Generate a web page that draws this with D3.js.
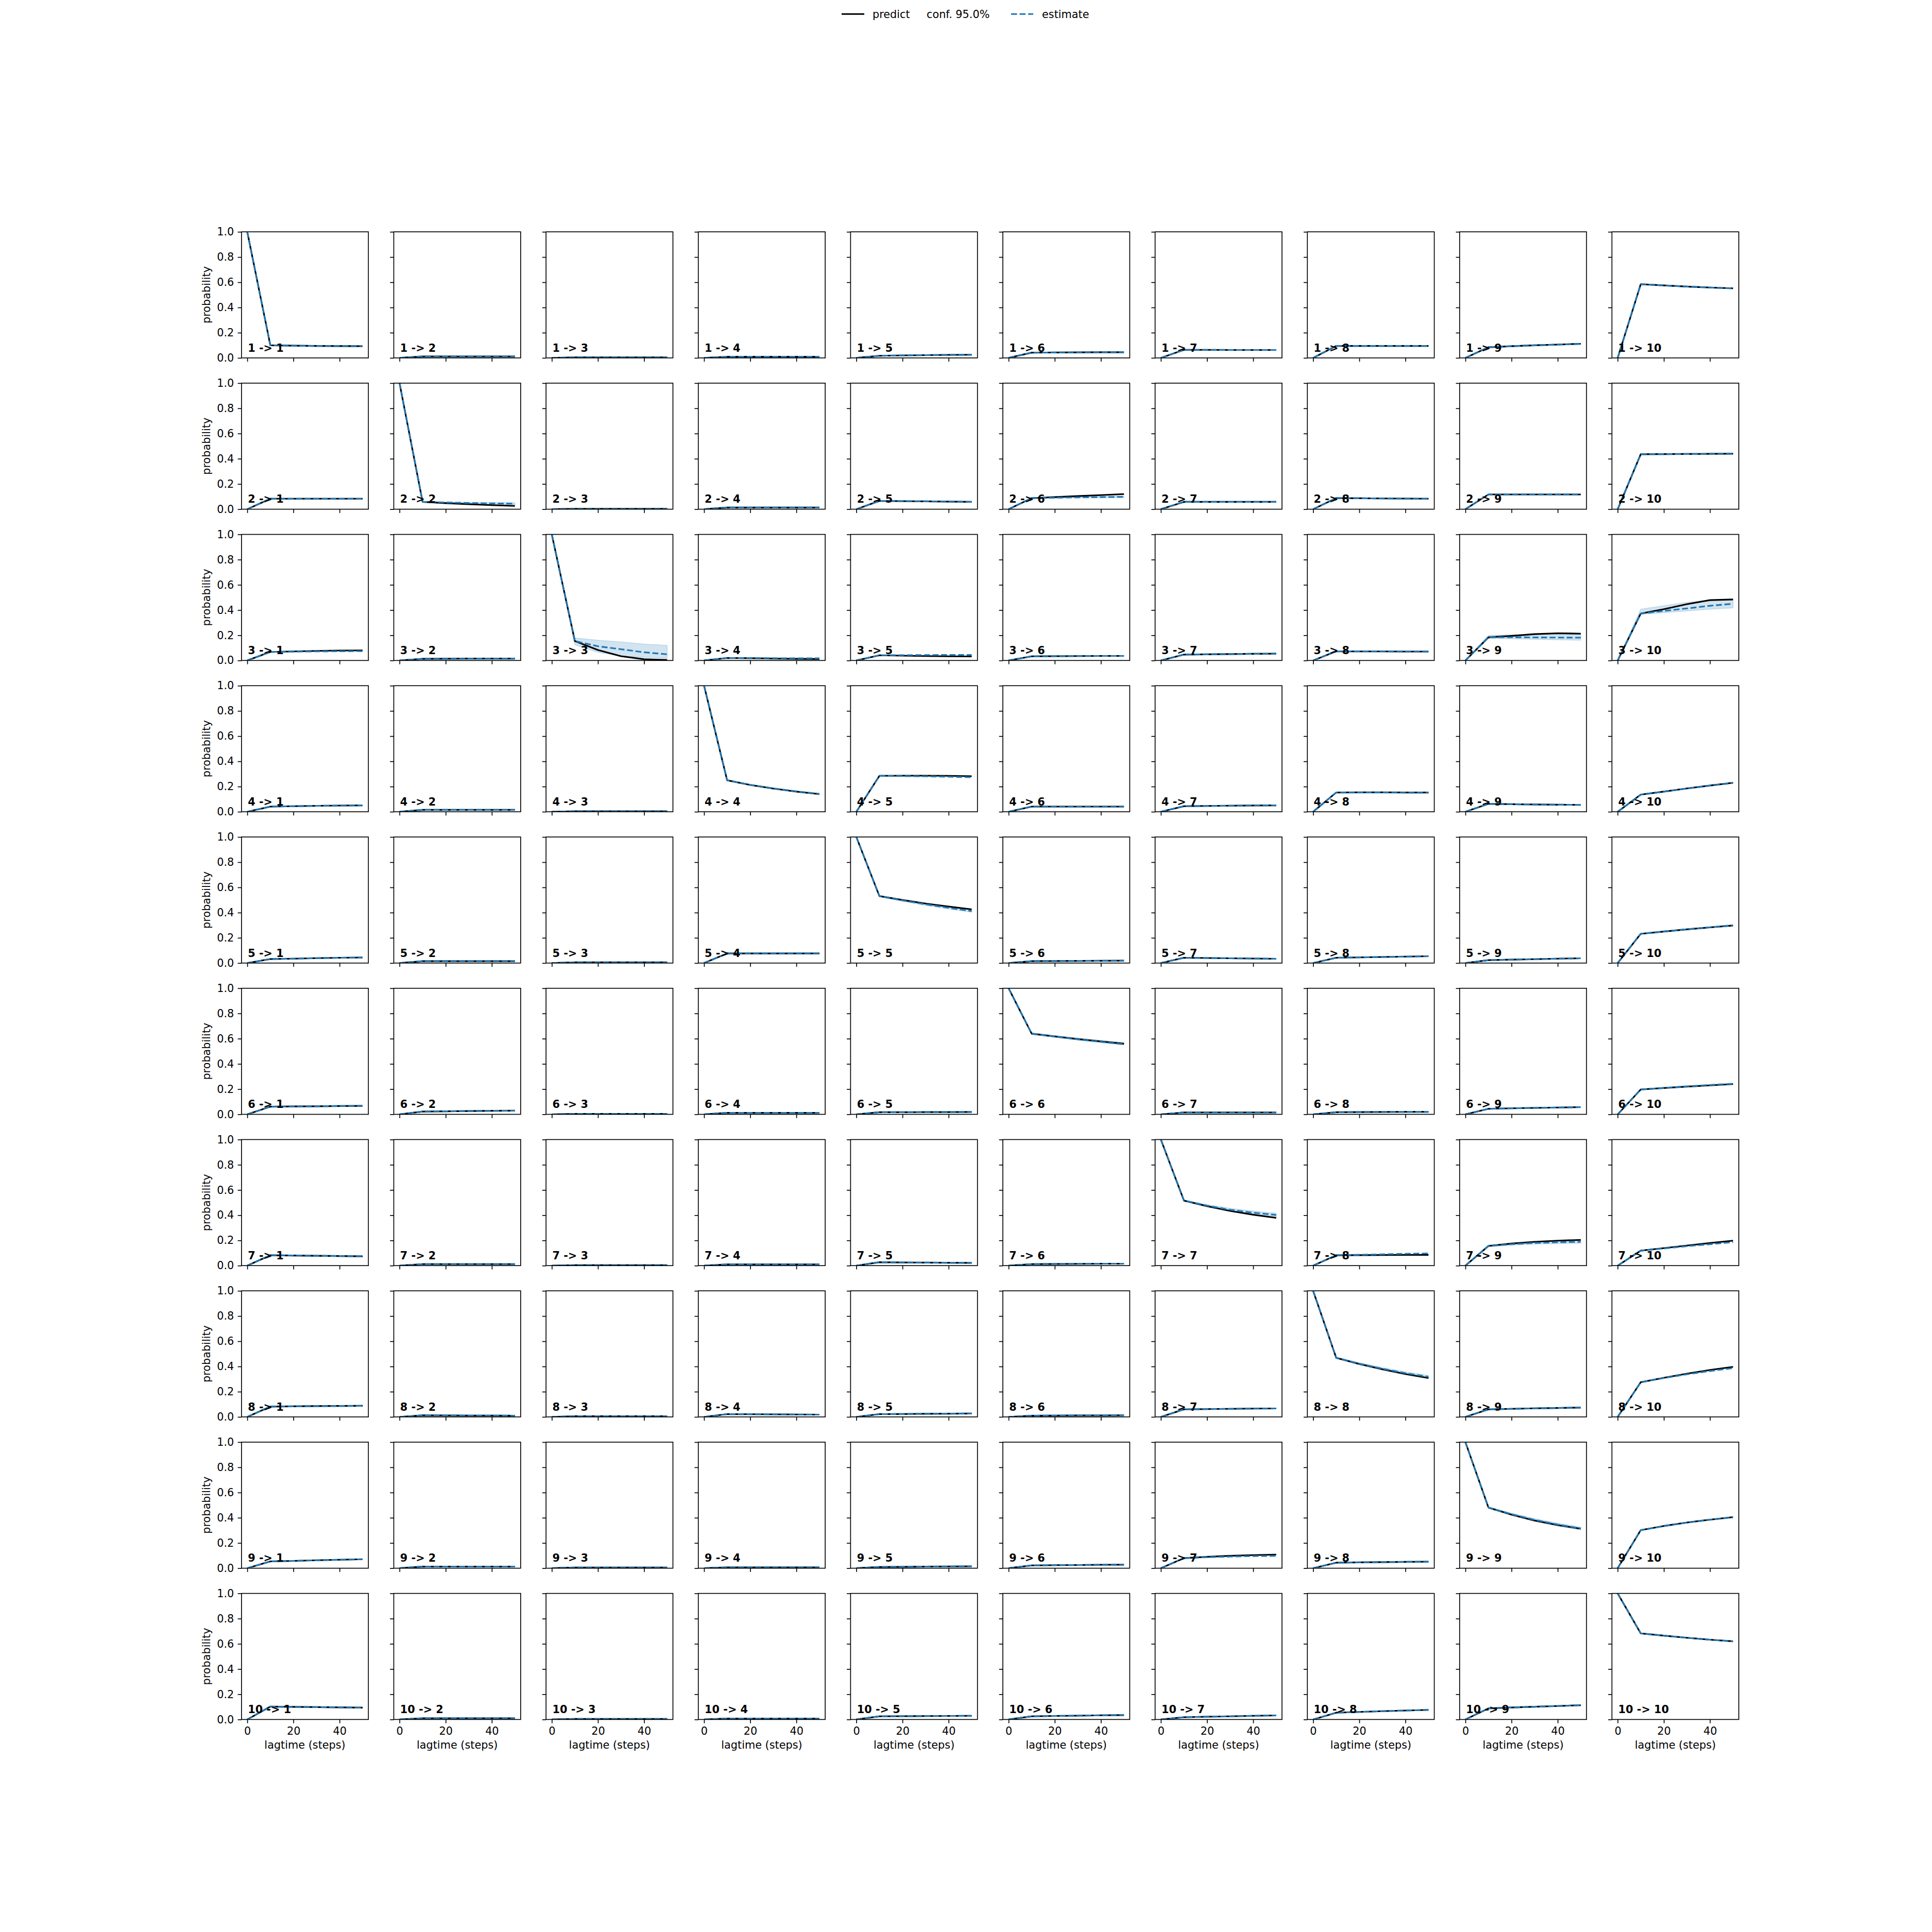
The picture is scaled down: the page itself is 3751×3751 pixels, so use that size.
<!DOCTYPE html>
<html>
<head>
<meta charset="utf-8">
<script src="https://cdn.jsdelivr.net/npm/d3@7"></script>
<style>
  html, body { margin: 0; padding: 0; background: #fff; }
  svg text { font-family: "DejaVu Sans", sans-serif; }
</style>
</head>
<body>
<svg id="chart" width="3751" height="3751"></svg>
<script>
// ---------------- DATA ----------------
const lagtimes = [0, 10, 20, 30, 40, 50];
const states = [1, 2, 3, 4, 5, 6, 7, 8, 9, 10];
const yTicks = [0, 0.2, 0.4, 0.6, 0.8, 1.0];
const xTicks = [0, 20, 40];
const legendLabels = ["predict", "conf. 95.0%", "estimate"];

const predictFrom1 = [
  [1, 0.100, 0.097, 0.095, 0.094, 0.093],
  [0, 0.012, 0.012, 0.012, 0.012, 0.012],
  [0, 0.004, 0.004, 0.004, 0.004, 0.004],
  [0, 0.009, 0.009, 0.009, 0.009, 0.009],
  [0, 0.017, 0.020, 0.022, 0.024, 0.025],
  [0, 0.042, 0.043, 0.044, 0.045, 0.045],
  [0, 0.064, 0.064, 0.063, 0.063, 0.063],
  [0, 0.095, 0.095, 0.095, 0.095, 0.095],
  [0, 0.085, 0.093, 0.100, 0.106, 0.112],
  [0, 0.585, 0.575, 0.566, 0.558, 0.552]];
const estimateFrom1 = [
  [1, 0.100, 0.097, 0.095, 0.094, 0.093],
  [0, 0.013, 0.013, 0.013, 0.013, 0.013],
  [0, 0.004, 0.004, 0.004, 0.004, 0.004],
  [0, 0.009, 0.009, 0.009, 0.009, 0.009],
  [0, 0.017, 0.020, 0.022, 0.024, 0.025],
  [0, 0.042, 0.043, 0.044, 0.045, 0.045],
  [0, 0.064, 0.064, 0.063, 0.063, 0.063],
  [0, 0.095, 0.095, 0.095, 0.095, 0.095],
  [0, 0.085, 0.093, 0.100, 0.106, 0.111],
  [0, 0.585, 0.575, 0.566, 0.558, 0.551]];

const predictFrom2 = [
  [0, 0.083, 0.083, 0.083, 0.083, 0.083],
  [1, 0.058, 0.048, 0.040, 0.032, 0.026],
  [0, 0.003, 0.003, 0.003, 0.003, 0.003],
  [0, 0.013, 0.013, 0.013, 0.013, 0.013],
  [0, 0.066, 0.064, 0.062, 0.060, 0.058],
  [0, 0.088, 0.096, 0.104, 0.112, 0.120],
  [0, 0.058, 0.058, 0.058, 0.058, 0.058],
  [0, 0.088, 0.087, 0.085, 0.084, 0.083],
  [0, 0.117, 0.117, 0.117, 0.117, 0.117],
  [0, 0.436, 0.437, 0.438, 0.439, 0.440]];
const estimateFrom2 = [
  [0, 0.083, 0.083, 0.083, 0.083, 0.083],
  [1, 0.058, 0.053, 0.049, 0.046, 0.044],
  [0, 0.003, 0.003, 0.003, 0.003, 0.003],
  [0, 0.013, 0.013, 0.013, 0.013, 0.013],
  [0, 0.066, 0.064, 0.062, 0.060, 0.058],
  [0, 0.088, 0.091, 0.094, 0.096, 0.098],
  [0, 0.058, 0.058, 0.058, 0.058, 0.058],
  [0, 0.088, 0.087, 0.085, 0.084, 0.083],
  [0, 0.117, 0.117, 0.117, 0.117, 0.117],
  [0, 0.436, 0.437, 0.438, 0.439, 0.440]];

const predictFrom3 = [
  [0, 0.068, 0.072, 0.076, 0.079, 0.080],
  [0, 0.013, 0.014, 0.015, 0.015, 0.015],
  [1, 0.154, 0.083, 0.034, 0.010, 0.004],
  [0, 0.020, 0.018, 0.015, 0.013, 0.012],
  [0, 0.041, 0.038, 0.035, 0.033, 0.032],
  [0, 0.033, 0.034, 0.035, 0.036, 0.036],
  [0, 0.047, 0.049, 0.051, 0.053, 0.054],
  [0, 0.073, 0.072, 0.072, 0.071, 0.071],
  [0, 0.184, 0.195, 0.209, 0.216, 0.213],
  [0, 0.372, 0.407, 0.447, 0.479, 0.484]];
const estimateFrom3 = [
  [0, 0.068, 0.070, 0.072, 0.073, 0.074],
  [0, 0.013, 0.014, 0.015, 0.015, 0.015],
  [1, 0.154, 0.113, 0.089, 0.065, 0.049],
  [0, 0.020, 0.019, 0.018, 0.017, 0.017],
  [0, 0.041, 0.042, 0.043, 0.044, 0.044],
  [0, 0.033, 0.034, 0.035, 0.036, 0.036],
  [0, 0.047, 0.049, 0.051, 0.053, 0.054],
  [0, 0.073, 0.072, 0.072, 0.071, 0.071],
  [0, 0.184, 0.184, 0.183, 0.182, 0.181],
  [0, 0.372, 0.393, 0.413, 0.434, 0.450]];

const predictFrom4 = [
  [0, 0.041, 0.044, 0.047, 0.049, 0.051],
  [0, 0.015, 0.015, 0.015, 0.015, 0.015],
  [0, 0.004, 0.004, 0.004, 0.004, 0.004],
  [1, 0.250, 0.213, 0.184, 0.160, 0.140],
  [0, 0.285, 0.286, 0.286, 0.285, 0.282],
  [0, 0.041, 0.041, 0.041, 0.041, 0.041],
  [0, 0.044, 0.046, 0.048, 0.050, 0.051],
  [0, 0.153, 0.154, 0.154, 0.153, 0.153],
  [0, 0.063, 0.060, 0.058, 0.056, 0.055],
  [0, 0.136, 0.160, 0.185, 0.208, 0.230]];
const estimateFrom4 = [
  [0, 0.041, 0.044, 0.047, 0.049, 0.051],
  [0, 0.015, 0.015, 0.015, 0.015, 0.015],
  [0, 0.004, 0.004, 0.004, 0.004, 0.004],
  [1, 0.250, 0.214, 0.186, 0.162, 0.142],
  [0, 0.285, 0.283, 0.281, 0.278, 0.274],
  [0, 0.041, 0.041, 0.041, 0.041, 0.041],
  [0, 0.044, 0.046, 0.048, 0.050, 0.051],
  [0, 0.153, 0.153, 0.153, 0.152, 0.152],
  [0, 0.063, 0.060, 0.058, 0.056, 0.055],
  [0, 0.136, 0.160, 0.184, 0.207, 0.228]];

const predictFrom5 = [
  [0, 0.032, 0.035, 0.039, 0.042, 0.044],
  [0, 0.015, 0.015, 0.015, 0.015, 0.015],
  [0, 0.006, 0.006, 0.006, 0.006, 0.006],
  [0, 0.076, 0.076, 0.076, 0.076, 0.076],
  [1, 0.531, 0.500, 0.472, 0.448, 0.426],
  [0, 0.015, 0.016, 0.017, 0.018, 0.019],
  [0, 0.042, 0.040, 0.038, 0.036, 0.034],
  [0, 0.042, 0.045, 0.048, 0.051, 0.054],
  [0, 0.023, 0.027, 0.031, 0.035, 0.038],
  [0, 0.232, 0.250, 0.267, 0.283, 0.298]];
const estimateFrom5 = [
  [0, 0.032, 0.035, 0.039, 0.042, 0.044],
  [0, 0.015, 0.015, 0.015, 0.015, 0.015],
  [0, 0.006, 0.006, 0.006, 0.006, 0.006],
  [0, 0.076, 0.076, 0.076, 0.076, 0.076],
  [1, 0.531, 0.497, 0.466, 0.438, 0.412],
  [0, 0.015, 0.016, 0.017, 0.018, 0.019],
  [0, 0.042, 0.040, 0.038, 0.036, 0.034],
  [0, 0.042, 0.045, 0.048, 0.051, 0.054],
  [0, 0.023, 0.027, 0.031, 0.035, 0.038],
  [0, 0.232, 0.251, 0.268, 0.284, 0.300]];

const predictFrom6 = [
  [0, 0.061, 0.063, 0.064, 0.066, 0.067],
  [0, 0.022, 0.024, 0.026, 0.028, 0.029],
  [0, 0.004, 0.004, 0.004, 0.004, 0.004],
  [0, 0.012, 0.012, 0.012, 0.012, 0.012],
  [0, 0.017, 0.017, 0.018, 0.018, 0.019],
  [1, 0.640, 0.618, 0.597, 0.578, 0.560],
  [0, 0.015, 0.015, 0.015, 0.015, 0.015],
  [0, 0.017, 0.018, 0.019, 0.020, 0.020],
  [0, 0.044, 0.048, 0.051, 0.054, 0.057],
  [0, 0.197, 0.209, 0.220, 0.230, 0.240]];
const estimateFrom6 = [
  [0, 0.061, 0.063, 0.064, 0.066, 0.067],
  [0, 0.022, 0.024, 0.026, 0.028, 0.029],
  [0, 0.004, 0.004, 0.004, 0.004, 0.004],
  [0, 0.012, 0.012, 0.012, 0.012, 0.012],
  [0, 0.017, 0.017, 0.018, 0.018, 0.019],
  [1, 0.640, 0.617, 0.595, 0.575, 0.556],
  [0, 0.015, 0.015, 0.015, 0.015, 0.015],
  [0, 0.017, 0.018, 0.019, 0.020, 0.020],
  [0, 0.044, 0.048, 0.051, 0.054, 0.057],
  [0, 0.197, 0.210, 0.222, 0.233, 0.243]];

const predictFrom7 = [
  [0, 0.082, 0.080, 0.078, 0.076, 0.074],
  [0, 0.012, 0.012, 0.012, 0.012, 0.012],
  [0, 0.004, 0.004, 0.004, 0.004, 0.004],
  [0, 0.010, 0.010, 0.010, 0.010, 0.010],
  [0, 0.027, 0.025, 0.024, 0.023, 0.022],
  [0, 0.012, 0.013, 0.014, 0.015, 0.015],
  [1, 0.516, 0.472, 0.434, 0.404, 0.379],
  [0, 0.082, 0.083, 0.084, 0.085, 0.085],
  [0, 0.156, 0.175, 0.189, 0.198, 0.204],
  [0, 0.119, 0.139, 0.159, 0.179, 0.198]];
const estimateFrom7 = [
  [0, 0.082, 0.080, 0.078, 0.076, 0.074],
  [0, 0.012, 0.012, 0.012, 0.012, 0.012],
  [0, 0.004, 0.004, 0.004, 0.004, 0.004],
  [0, 0.010, 0.010, 0.010, 0.010, 0.010],
  [0, 0.027, 0.025, 0.024, 0.023, 0.022],
  [0, 0.012, 0.013, 0.014, 0.015, 0.015],
  [1, 0.516, 0.476, 0.443, 0.420, 0.402],
  [0, 0.082, 0.086, 0.090, 0.094, 0.097],
  [0, 0.156, 0.170, 0.180, 0.185, 0.189],
  [0, 0.119, 0.136, 0.154, 0.170, 0.186]];

const predictFrom8 = [
  [0, 0.082, 0.084, 0.086, 0.087, 0.088],
  [0, 0.013, 0.012, 0.011, 0.011, 0.010],
  [0, 0.006, 0.006, 0.006, 0.006, 0.006],
  [0, 0.022, 0.021, 0.020, 0.019, 0.018],
  [0, 0.022, 0.023, 0.025, 0.026, 0.027],
  [0, 0.010, 0.011, 0.012, 0.012, 0.013],
  [0, 0.060, 0.062, 0.064, 0.066, 0.067],
  [1, 0.469, 0.420, 0.378, 0.340, 0.308],
  [0, 0.060, 0.064, 0.068, 0.071, 0.074],
  [0, 0.275, 0.310, 0.343, 0.372, 0.397]];
const estimateFrom8 = [
  [0, 0.082, 0.084, 0.086, 0.087, 0.088],
  [0, 0.013, 0.012, 0.011, 0.011, 0.010],
  [0, 0.006, 0.006, 0.006, 0.006, 0.006],
  [0, 0.022, 0.021, 0.020, 0.019, 0.018],
  [0, 0.022, 0.023, 0.025, 0.026, 0.027],
  [0, 0.010, 0.011, 0.012, 0.012, 0.013],
  [0, 0.060, 0.062, 0.064, 0.066, 0.067],
  [1, 0.469, 0.422, 0.382, 0.347, 0.318],
  [0, 0.060, 0.064, 0.068, 0.071, 0.074],
  [0, 0.275, 0.308, 0.338, 0.364, 0.387]];

const predictFrom9 = [
  [0, 0.054, 0.058, 0.063, 0.067, 0.071],
  [0, 0.013, 0.013, 0.013, 0.013, 0.013],
  [0, 0.006, 0.006, 0.006, 0.006, 0.006],
  [0, 0.007, 0.007, 0.007, 0.007, 0.007],
  [0, 0.010, 0.011, 0.013, 0.014, 0.015],
  [0, 0.022, 0.024, 0.025, 0.027, 0.028],
  [0, 0.080, 0.090, 0.098, 0.104, 0.108],
  [0, 0.044, 0.046, 0.048, 0.050, 0.052],
  [1, 0.481, 0.425, 0.378, 0.342, 0.313],
  [0, 0.302, 0.335, 0.362, 0.385, 0.405]];
const estimateFrom9 = [
  [0, 0.054, 0.058, 0.063, 0.067, 0.071],
  [0, 0.013, 0.013, 0.013, 0.013, 0.013],
  [0, 0.006, 0.006, 0.006, 0.006, 0.006],
  [0, 0.007, 0.007, 0.007, 0.007, 0.007],
  [0, 0.010, 0.011, 0.013, 0.014, 0.015],
  [0, 0.022, 0.024, 0.025, 0.027, 0.028],
  [0, 0.080, 0.087, 0.092, 0.096, 0.098],
  [0, 0.044, 0.046, 0.048, 0.050, 0.052],
  [1, 0.481, 0.428, 0.383, 0.346, 0.315],
  [0, 0.302, 0.334, 0.361, 0.384, 0.403]];

const predictFrom10 = [
  [0, 0.102, 0.100, 0.098, 0.096, 0.094],
  [0, 0.010, 0.010, 0.010, 0.010, 0.010],
  [0, 0.004, 0.004, 0.004, 0.004, 0.004],
  [0, 0.007, 0.007, 0.007, 0.007, 0.007],
  [0, 0.025, 0.026, 0.027, 0.028, 0.029],
  [0, 0.025, 0.028, 0.030, 0.033, 0.035],
  [0, 0.018, 0.022, 0.025, 0.029, 0.032],
  [0, 0.054, 0.060, 0.066, 0.071, 0.076],
  [0, 0.088, 0.095, 0.101, 0.107, 0.113],
  [1, 0.683, 0.665, 0.648, 0.633, 0.620]];
const estimateFrom10 = [
  [0, 0.102, 0.100, 0.098, 0.096, 0.094],
  [0, 0.010, 0.010, 0.010, 0.010, 0.010],
  [0, 0.004, 0.004, 0.004, 0.004, 0.004],
  [0, 0.007, 0.007, 0.007, 0.007, 0.007],
  [0, 0.025, 0.026, 0.027, 0.028, 0.029],
  [0, 0.025, 0.028, 0.030, 0.033, 0.035],
  [0, 0.018, 0.022, 0.025, 0.029, 0.032],
  [0, 0.054, 0.060, 0.066, 0.071, 0.076],
  [0, 0.088, 0.095, 0.101, 0.107, 0.113],
  [1, 0.683, 0.665, 0.648, 0.633, 0.620]];

// 95% confidence bands of the estimates (panels where visible)
const confBands = [
  { from: 2, to: 2,  low: [1, 0.055, 0.047, 0.042, 0.038, 0.035], high: [1, 0.062, 0.058, 0.055, 0.053, 0.052] },
  { from: 2, to: 6,  low: [0, 0.085, 0.087, 0.089, 0.090, 0.091], high: [0, 0.091, 0.095, 0.099, 0.102, 0.105] },
  { from: 3, to: 3,  low: [1, 0.124, 0.065, 0.035, 0.025, 0.018], high: [1, 0.179, 0.161, 0.147, 0.130, 0.120] },
  { from: 3, to: 9,  low: [0, 0.175, 0.172, 0.168, 0.164, 0.161], high: [0, 0.200, 0.204, 0.208, 0.207, 0.206] },
  { from: 3, to: 10, low: [0, 0.366, 0.379, 0.393, 0.407, 0.417], high: [0, 0.407, 0.434, 0.461, 0.479, 0.488] },
  { from: 5, to: 5,  low: [1, 0.525, 0.490, 0.458, 0.429, 0.403], high: [1, 0.537, 0.504, 0.474, 0.447, 0.421] },
  { from: 6, to: 6,  low: [1, 0.634, 0.611, 0.589, 0.569, 0.551], high: [1, 0.646, 0.625, 0.605, 0.587, 0.569] },
  { from: 7, to: 7,  low: [1, 0.510, 0.466, 0.430, 0.405, 0.388], high: [1, 0.522, 0.484, 0.454, 0.433, 0.416] },
  { from: 7, to: 9,  low: [0, 0.150, 0.162, 0.170, 0.175, 0.178], high: [0, 0.162, 0.178, 0.190, 0.196, 0.200] },
  { from: 8, to: 8,  low: [1, 0.463, 0.414, 0.373, 0.337, 0.307], high: [1, 0.475, 0.430, 0.391, 0.357, 0.329] },
  { from: 9, to: 9,  low: [1, 0.475, 0.420, 0.373, 0.335, 0.304], high: [1, 0.487, 0.436, 0.393, 0.357, 0.326] }
];

const predictRows = [predictFrom1, predictFrom2, predictFrom3, predictFrom4, predictFrom5,
                     predictFrom6, predictFrom7, predictFrom8, predictFrom9, predictFrom10];
const estimateRows = [estimateFrom1, estimateFrom2, estimateFrom3, estimateFrom4, estimateFrom5,
                      estimateFrom6, estimateFrom7, estimateFrom8, estimateFrom9, estimateFrom10];

// ---------------- LAYOUT ----------------
const W = 3751, H = 3751;
const FONT = 20.8;
const LW = 3.125;          // 1.5pt line
const SPINE = 1.67;        // 0.8pt
const TICK = 7.3;          // 3.5pt
const PAD = 7.3;
const C0 = "#1f77b4";

const left0 = 0.125 * W, right0 = 0.9 * W, top0 = (1 - 0.88) * W, bottom0 = (1 - 0.11) * W;
const n = states.length, space = 0.2;
const pw = (right0 - left0) / (n + (n - 1) * space);
const ph = (bottom0 - top0) / (n + (n - 1) * space);

const x = d3.scaleLinear().domain([-2.5, 52.5]).range([0, pw]);
const y = d3.scaleLinear().domain([0, 1]).range([ph, 0]);

const svg = d3.select("#chart");
svg.append("rect").attr("width", W).attr("height", H).attr("fill", "#fff");

const defs = svg.append("defs");
defs.append("clipPath").attr("id", "panelclip")
  .append("rect").attr("x", 0).attr("y", 0).attr("width", pw).attr("height", ph);

const line = d3.line().x((d, i) => x(lagtimes[i])).y(d => y(d));
const area = d3.area().x((d, i) => x(lagtimes[i])).y0(d => y(d[0])).y1(d => y(d[1]));

states.forEach((sFrom, r) => {
  states.forEach((sTo, c) => {
    const gx = left0 + c * pw * (1 + space);
    const gy = top0 + r * ph * (1 + space);
    const g = svg.append("g").attr("transform", `translate(${gx},${gy})`);
    const plot = g.append("g").attr("clip-path", "url(#panelclip)");

    const band = confBands.find(b => b.from === sFrom && b.to === sTo);
    if (band) {
      const pts = band.low.map((v, i) => [v, band.high[i]]);
      plot.append("path").attr("d", area(pts))
        .attr("fill", C0).attr("fill-opacity", 0.2)
        .attr("stroke", C0).attr("stroke-opacity", 0.2).attr("stroke-width", 1.5);
    }

    plot.append("path").attr("d", line(predictRows[r][c]))
      .attr("fill", "none").attr("stroke", "#000").attr("stroke-width", LW)
      .attr("stroke-linejoin", "round");
    plot.append("path").attr("d", line(estimateRows[r][c]))
      .attr("fill", "none").attr("stroke", C0).attr("stroke-width", LW)
      .attr("stroke-dasharray", "11.56,5").attr("stroke-linejoin", "round");

    // axes
    const ya = d3.axisLeft(y).tickValues(yTicks).tickSize(TICK).tickPadding(PAD)
      .tickFormat(c === 0 ? d3.format(".1f") : () => "");
    const yg = g.append("g").call(ya);
    const xa = d3.axisBottom(x).tickValues(xTicks).tickSize(TICK).tickPadding(PAD)
      .tickFormat(r === n - 1 ? d3.format("d") : () => "");
    const xg = g.append("g").attr("transform", `translate(0,${ph})`).call(xa);
    [yg, xg].forEach(a => {
      a.select(".domain").remove();
      a.selectAll(".tick line").attr("stroke", "#000").attr("stroke-width", SPINE);
      a.selectAll(".tick text").attr("fill", "#000").style("font-size", FONT + "px")
        .style("font-family", "'DejaVu Sans', sans-serif");
    });

    // spines
    g.append("rect").attr("x", 0).attr("y", 0).attr("width", pw).attr("height", ph)
      .attr("fill", "none").attr("stroke", "#000").attr("stroke-width", SPINE);

    // panel label
    g.append("text").attr("x", 0.05 * pw).attr("y", ph * 0.95)
      .style("font-size", FONT + "px").style("font-weight", "bold")
      .text(`${sFrom} -> ${sTo}`);

    if (c === 0) {
      g.append("text")
        .attr("transform", `translate(${-61},${ph / 2}) rotate(-90)`)
        .attr("text-anchor", "middle").style("font-size", FONT + "px")
        .text("probability");
    }
    if (r === n - 1) {
      g.append("text").attr("x", pw / 2).attr("y", ph + 57)
        .attr("text-anchor", "middle").style("font-size", FONT + "px")
        .text("lagtime (steps)");
    }
  });
});

// ---------------- LEGEND ----------------
const lg = svg.append("g");
const ly = 27.3, lbase = 34.5;
lg.append("line").attr("x1", 1634).attr("x2", 1678).attr("y1", ly).attr("y2", ly)
  .attr("stroke", "#000").attr("stroke-width", LW);
lg.append("text").attr("x", 1694).attr("y", lbase).style("font-size", FONT + "px").text(legendLabels[0]);
lg.append("text").attr("x", 1799).attr("y", lbase).style("font-size", FONT + "px").text(legendLabels[1]);
lg.append("line").attr("x1", 1963).attr("x2", 2006).attr("y1", ly).attr("y2", ly)
  .attr("stroke", C0).attr("stroke-width", LW).attr("stroke-dasharray", "11.56,5");
lg.append("text").attr("x", 2023).attr("y", lbase).style("font-size", FONT + "px").text(legendLabels[2]);
</script>
</body>
</html>
